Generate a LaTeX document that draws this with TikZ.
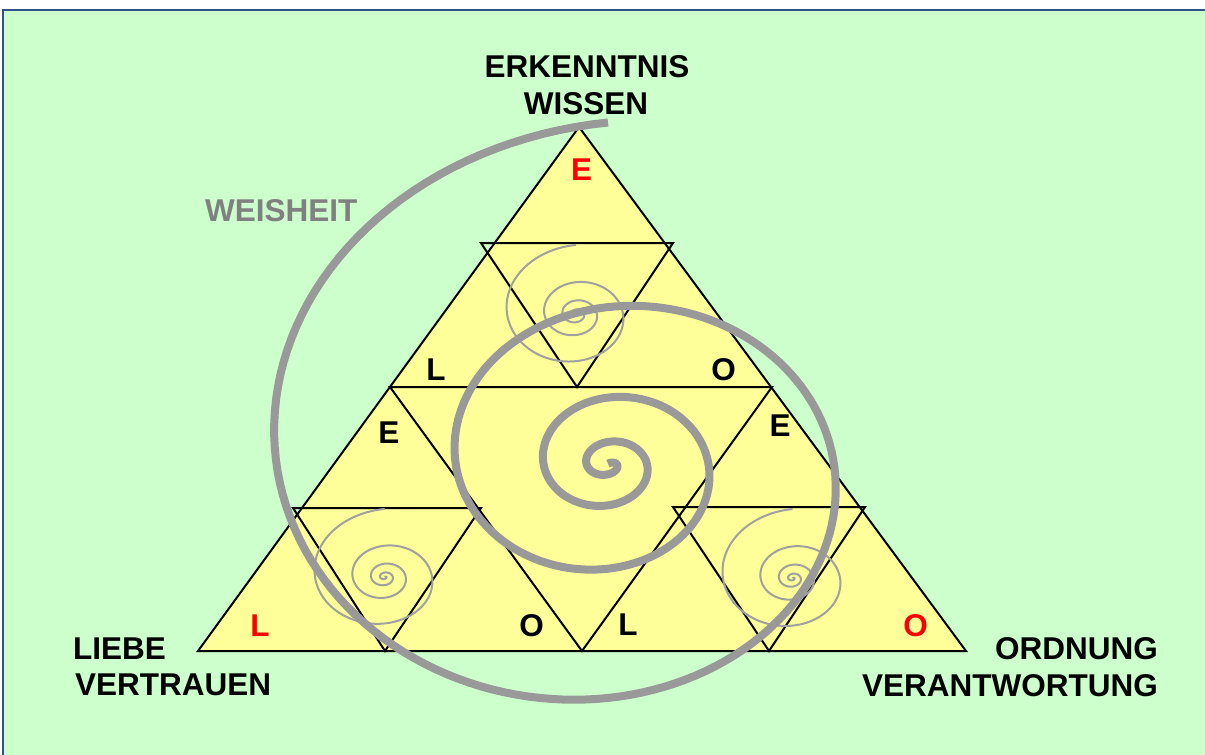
\documentclass[tikz,border=0pt]{standalone}
\usepackage{fontspec}
\setmainfont{Liberation Sans}
\definecolor{bg}{HTML}{CCFFCC}
\definecolor{tri}{HTML}{FFFF99}
\definecolor{spg}{HTML}{999999}
\definecolor{spl}{HTML}{A0A0A0}
\definecolor{framec}{RGB}{50,80,140}
\definecolor{wgray}{HTML}{808080}
\newcommand\myspiral[5]{%
  \draw[#5] plot[domain=0:25.1327, samples=600, variable=\t]
   ({#1 - #3*(420*exp(-0.11353*\t)-20)*sin(\t r)}, {#2 - #4*(362*exp(-0.11353*\t)-20)*cos(\t r)});
}
\tikzset{
  lab/.style={font=\fontsize{31.5}{36}\selectfont\bfseries, inner sep=0pt},
  tline/.style={line width=2pt, line join=miter, draw=black},
  bigspiral/.style={draw=spg, line width=8pt},
  smallspiral/.style={draw=spl, line width=2pt},
}
\begin{document}
\begin{tikzpicture}[x=1pt,y=-1pt]
\useasboundingbox (0,0) rectangle (1205,755);
\fill[white] (0,0) rectangle (1205,755);
\draw[framec, line width=1.5pt, fill=bg] (3,10) rectangle (1215,765);

% main triangle
\coordinate (A) at (579,127);
\coordinate (BL) at (198,651);
\coordinate (BR) at (966,651);
\filldraw[tline, fill=tri] (A) -- (BL) -- (BR) -- cycle;
% central inverted triangle
\coordinate (M1) at (390,387);
\coordinate (M2) at (772,387);
\coordinate (M3) at (582,651);
\draw[tline] (M1) -- (M2) -- (M3) -- cycle;
% top small inverted
\coordinate (T1) at (481,243);
\coordinate (T2) at (673,243);
\coordinate (T3) at (577,387);
\draw[tline] (T1) -- (T2) -- (T3) -- cycle;
% bottom-left small inverted
\coordinate (L1) at (293,508);
\coordinate (L2) at (481,508);
\coordinate (L3) at (385,651);
\draw[tline] (L1) -- (L2) -- (L3) -- cycle;
% bottom-right small inverted
\coordinate (R1) at (673,507);
\coordinate (R2) at (865,507);
\coordinate (R3) at (769,651);
\draw[tline] (R1) -- (R2) -- (R3) -- cycle;

% small spirals
\myspiral{576}{314}{0.208}{0.202}{smallspiral}
\myspiral{384.6}{577}{0.21}{0.199}{smallspiral}
\myspiral{792.6}{578.3}{0.21}{0.2026}{smallspiral}
% big spiral
\myspiral{608}{464.5}{1}{1}{bigspiral}

% labels
\node[lab, anchor=base] (erk) at (587,77) {ERKENNTNIS};
\node[lab, anchor=base] (wis) at (586,114) {WISSEN};
\node[lab, anchor=base west] (lie) at (73,659) {LIEBE};
\node[lab, anchor=base west] (ver) at (75,695) {VERTRAUEN};
\node[lab, anchor=base east] (ord) at (1158,659) {ORDNUNG};
\node[lab, anchor=base east] (vera) at (1158,696) {VERANTWORTUNG};
\node[lab, anchor=base west, text=wgray] (wei) at (205,221) {WEISHEIT};

% letters
\node[lab, anchor=base, text=red] (e1) at (581.5,180) {E};
\node[lab, anchor=base] (l1) at (436,380) {L};
\node[lab, anchor=base] (o1) at (723.5,380) {O};
\node[lab, anchor=base] (e2) at (389,443) {E};
\node[lab, anchor=base] (e3) at (780,436) {E};
\node[lab, anchor=base, text=red] (l2) at (260,636) {L};
\node[lab, anchor=base] (o2) at (531.5,636) {O};
\node[lab, anchor=base] (l3) at (628,635) {L};
\node[lab, anchor=base, text=red] (o3) at (915.5,636) {O};
\end{tikzpicture}
\end{document}
